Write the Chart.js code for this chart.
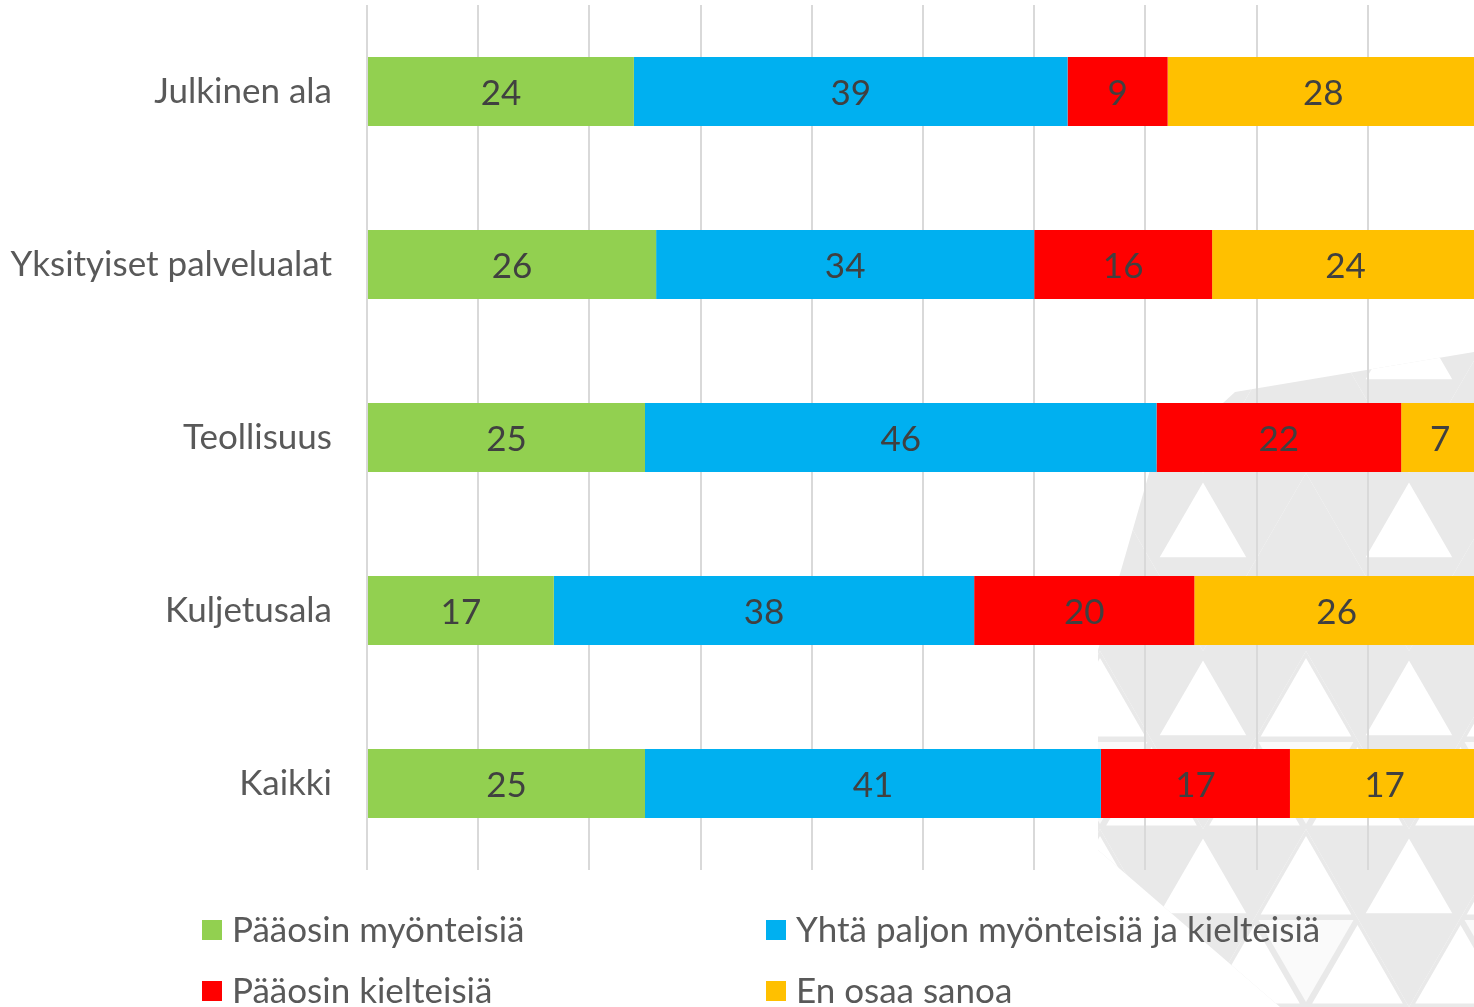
<!DOCTYPE html>
<html>
<head>
<meta charset="utf-8">
<script src="https://cdn.jsdelivr.net/npm/chart.js@4.4.0/dist/chart.umd.min.js"></script>
<style>
html,body{margin:0;padding:0;overflow:hidden;background:#fff;}
</style>
</head>
<body>
<canvas id="myChart" width="1500" height="1007"></canvas>
<script>
// categories and series (percent)
var categories = ['Julkinen ala', 'Yksityiset palvelualat', 'Teollisuus', 'Kuljetusala', 'Kaikki'];
var seriesNames = ['Pääosin myönteisiä', 'Yhtä paljon myönteisiä ja kielteisiä', 'Pääosin kielteisiä', 'En osaa sanoa'];
var myonteisia = [24, 26, 25, 16.8, 25];
var yhtaPaljon = [39, 34, 46, 37.8, 41];
var kielteisia = [9, 16, 22, 19.8, 17];
var enOsaa = [28, 24, 7, 25.6, 17];
var seriesColors = ['#92D050', '#00B0F0', '#FF0000', '#FFC000'];
var xMin = 0, xMax = 100, xStep = 10;

var FONT = 'Lato, "Open Sans", sans-serif';
var PATTERN_GREY = '#e9e9e9';

function triPath(ctx, ax, ay, bx, by, cx, cy){
    ctx.beginPath();
    ctx.moveTo(ax, ay);
    ctx.lineTo(bx, by);
    ctx.lineTo(cx, cy);
    ctx.closePath();
}

// up triangle with apex (ax, top), side s, height h, shrunk a bit to leave a grey rim
function upInset(ctx, ax, top, s, h, k, col){
    var cx = ax, cy = top + h * 2 / 3;
    triPath(ctx,
        cx + (ax - cx) * k, cy + (top - cy) * k,
        cx + (ax - s / 2 - cx) * k, cy + (top + h - cy) * k,
        cx + (ax + s / 2 - cx) * k, cy + (top + h - cy) * k);
    ctx.fillStyle = col;
    ctx.fill();
}

// light grey triangle pattern in the lower right corner (decoration only)
var bgPattern = {
    id: 'bgPattern',
    beforeDraw: function(chart){
        var ctx = chart.ctx;
        ctx.save();
        ctx.fillStyle = '#fff';
        ctx.fillRect(0, 0, chart.width, chart.height);
        ctx.beginPath();
        ctx.moveTo(1098, 850);
        ctx.lineTo(1098, 650);
        ctx.lineTo(1150, 470);
        ctx.lineTo(1235, 392);
        ctx.lineTo(1474, 352);
        ctx.lineTo(1500, 352);
        ctx.lineTo(1500, 1007);
        ctx.lineTo(1280, 1007);
        ctx.closePath();
        ctx.clip();
        var W = 206, H = 178, x0 = 1100, y0 = 473;
        for(var m = -1; m < 3; m++){
            var top = y0 + m * H;
            for(var k = -1; k < 3; k++){
                var left = x0 + k * W;
                // big down triangle: grey, white centre
                triPath(ctx, left, top, left + W, top, left + W / 2, top + H);
                ctx.fillStyle = PATTERN_GREY;
                ctx.fill();
                upInset(ctx, left + W / 2, top, W / 2, H / 2, 0.84, '#fff');
                // big up triangle next to it
                var apx = left + W;
                if(m <= 0){
                    triPath(ctx, apx, top, apx - W / 2, top + H, apx + W / 2, top + H);
                    ctx.fillStyle = PATTERN_GREY;
                    ctx.fill();
                }else{
                    // white, only the corner pieces outlined in grey
                    triPath(ctx, apx, top, apx - W / 2, top + H, apx + W / 2, top + H);
                    ctx.fillStyle = PATTERN_GREY;
                    ctx.fill();
                    upInset(ctx, apx, top, W / 2, H / 2, 0.88, '#fff');
                    upInset(ctx, apx - W / 4, top + H / 2, W / 2, H / 2, 0.88, '#fff');
                    upInset(ctx, apx + W / 4, top + H / 2, W / 2, H / 2, 0.88, '#fff');
                    triPath(ctx, apx - W / 4 + 4, top + H / 2 + 2, apx + W / 4 - 4, top + H / 2 + 2, apx, top + H - 5);
                    ctx.fillStyle = '#fafafa';
                    ctx.fill();
                }
            }
        }
        ctx.restore();
    }
};

var barLabels = {
    id: 'barLabels',
    afterDatasetsDraw: function(chart){
        var ctx = chart.ctx;
        ctx.save();
        ctx.font = '35px ' + FONT;
        ctx.fillStyle = '#404040';
        ctx.textAlign = 'center';
        ctx.textBaseline = 'middle';
        chart.data.datasets.forEach(function(ds, i){
            chart.getDatasetMeta(i).data.forEach(function(bar, j){
                var x = (bar.x + bar.base) / 2;
                ctx.fillText(Math.round(ds.data[j]), x, bar.y + 2);
            });
        });
        ctx.restore();
    }
};

var bottomLegend = {
    id: 'bottomLegend',
    afterDraw: function(chart){
        var ctx = chart.ctx;
        var colX = [202, 766], rowY = [930, 991];
        ctx.save();
        ctx.font = '35px ' + FONT;
        ctx.textBaseline = 'middle';
        ctx.textAlign = 'left';
        chart.data.datasets.forEach(function(ds, i){
            var x = colX[i % 2], y = rowY[Math.floor(i / 2)];
            ctx.fillStyle = ds.backgroundColor;
            ctx.fillRect(x, y - 10, 20, 20);
            ctx.fillStyle = '#595959';
            ctx.fillText(ds.label, x + 30, y + 1);
        });
        ctx.restore();
    }
};

var seriesData = [myonteisia, yhtaPaljon, kielteisia, enOsaa];
var datasets = [];
for(let i = 0; i < seriesNames.length; i++){
    datasets.push({
        label: seriesNames[i],
        data: seriesData[i],
        backgroundColor: seriesColors[i],
        borderWidth: 0,
        barPercentage: 0.4,
        categoryPercentage: 1
    });
}

var ctx = document.getElementById('myChart');
var myChart = new Chart(ctx, {
    type: 'bar',
    data: {
        labels: categories,
        datasets: datasets
    },
    plugins: [bgPattern, barLabels, bottomLegend],
    options: {
        indexAxis: 'y',
        responsive: false,
        animation: false,
        layout: {
            padding: {left: 0, right: 21, top: 5, bottom: 137}
        },
        plugins: {
            legend: {display: false},
            tooltip: {enabled: false}
        },
        scales: {
            x: {
                stacked: true,
                min: xMin,
                max: xMax,
                ticks: {display: false, stepSize: xStep},
                grid: {color: '#d9d9d9', lineWidth: 2, drawTicks: false},
                border: {display: false},
                afterFit: function(scale){ scale.height = 0; }
            },
            y: {
                stacked: true,
                grid: {display: false},
                border: {display: false},
                ticks: {
                    color: '#595959',
                    padding: 27,
                    font: {family: FONT, size: 35}
                },
                afterFit: function(scale){
                    scale.width = 367;
                    scale.paddingTop = 0;
                    scale.paddingBottom = 0;
                }
            }
        }
    }
});
</script>
</body>
</html>
